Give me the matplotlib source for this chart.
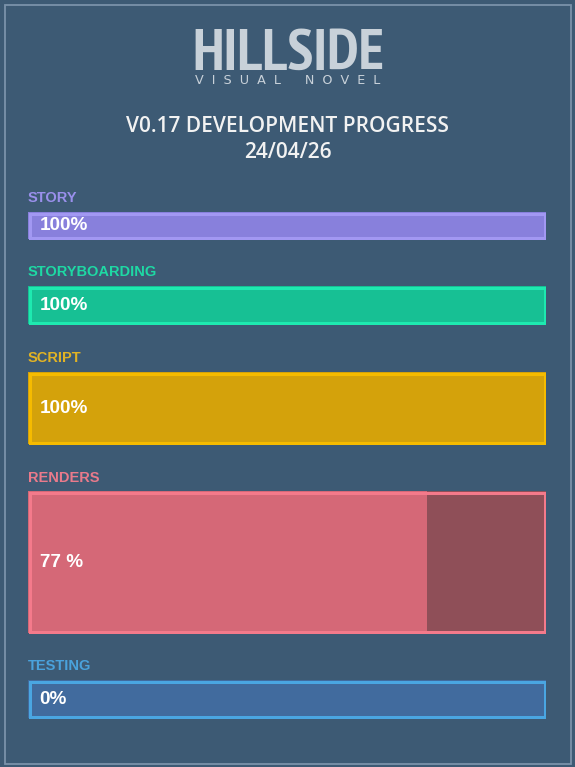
import matplotlib
matplotlib.use("Agg")
import matplotlib.pyplot as plt
from matplotlib.patches import Rectangle
from matplotlib import font_manager

# ---- data ----
categories = ["STORY", "STORYBOARDING", "SCRIPT", "RENDERS", "TESTING"]
values = [100, 100, 100, 77, 0]
value_labels = ["100%", "100%", "100%", "77 %", "0%"]
title_lines = ["V0.17 DEVELOPMENT PROGRESS", "24/04/26"]
logo_text = "HILLSIDE"
logo_sub = "VISUAL NOVEL"

# ---- styles / layout (pixel units) ----
W, H = 575, 767
bar_tops = [212, 286, 372, 491, 680]
bar_bottoms = [239, 324, 444, 633, 718]
fill_colors = ["#8880dc", "#17c094", "#d4a20b", "#d56877", "#416b9e"]
rest_colors = ["#8880dc", "#17c094", "#d4a20b", "#8f4f58", "#416b9e"]
edge_colors = ["#a298f2", "#1ee9b0", "#f6bb00", "#f47a8b", "#4aa6e2"]
label_colors = ["#9a90ec", "#1ed9a4", "#e2b324", "#ea7a8b", "#4aa2dc"]
bg = "#3d5a74"
frame_col = "#7a92aa"
logo_col = "#c8d1d9"

# find a condensed/narrow bold font for the logo if one is installed
cands = []
for f in font_manager.fontManager.ttflist:
    n = (f.name + " " + str(f.fname)).lower()
    if ("narrow" in n or "condensed" in n) and (f.weight in ("bold", 700) or "bold" in n):
        cands.append(f)
cands.sort(key=lambda f: (0 if "narrow" in f.fname.lower() else 1))
if cands:
    logo_font = font_manager.FontProperties(fname=cands[0].fname, size=42.5)
else:
    logo_font = font_manager.FontProperties(family="DejaVu Sans", weight="bold", size=27)

fig = plt.figure(figsize=(W / 100, H / 100), dpi=100)
fig.patch.set_facecolor(bg)

# outer frame
fig.patches.append(Rectangle((4.5 / W, 3.5 / H), (W - 9) / W, (H - 8) / H,
                             transform=fig.transFigure, fill=False,
                             edgecolor=frame_col, linewidth=1.3))

x0, x1 = 28, 546
ax = fig.add_axes([x0 / W, 0, (x1 - x0) / W, 1])
ax.set_xlim(0, 100)
ax.set_ylim(H, 0)
ax.axis("off")

lw_px = 3.0
lw_pt = lw_px * 72 / 100
inset_x = (lw_px / 2) / (x1 - x0) * 100
inset_y = lw_px / 2

for i, cat in enumerate(categories):
    top, bot = bar_tops[i], bar_bottoms[i]
    yc = (top + bot) / 2
    h = bot - top
    ax.barh(yc, 100, height=h, left=0, color=rest_colors[i], linewidth=0)
    ax.barh(yc, values[i], height=h, left=0, color=fill_colors[i], linewidth=0)
    ax.barh(yc, 100 - 2 * inset_x, height=h - 2 * inset_y, left=inset_x,
            fill=False, edgecolor=edge_colors[i], linewidth=lw_pt)
    ax.text(0, top - 13.5, cat, color=label_colors[i], fontsize=10.5,
            fontweight="bold", family="Liberation Sans", ha="left", va="center")
    ax.text((39.5 - x0) / (x1 - x0) * 100, yc + 0.5, value_labels[i], color="white",
            fontsize=13.6, fontweight="bold", family="Liberation Sans",
            ha="left", va="center")

# logo
fig.text(288 / W, 1 - 70 / H, logo_text, color=logo_col,
         fontproperties=logo_font, ha="center", va="baseline")
sub = "      ".join("  ".join(list(w)) for w in logo_sub.split())
fig.text(288 / W, 1 - 83.5 / H, sub,
         color=logo_col, fontsize=9.2, family="DejaVu Sans", ha="center", va="baseline")

# title
fig.text(0.5, 1 - 126 / H, title_lines[0], color="#f2f2f2", fontsize=15,
         family="Open Sans", fontweight="semibold", ha="center", va="center")
fig.text(0.5, 1 - 153 / H, title_lines[1], color="#f2f2f2", fontsize=15,
         family="Open Sans", fontweight="semibold", ha="center", va="center")

fig.savefig("out.png", dpi=100, facecolor=bg)
